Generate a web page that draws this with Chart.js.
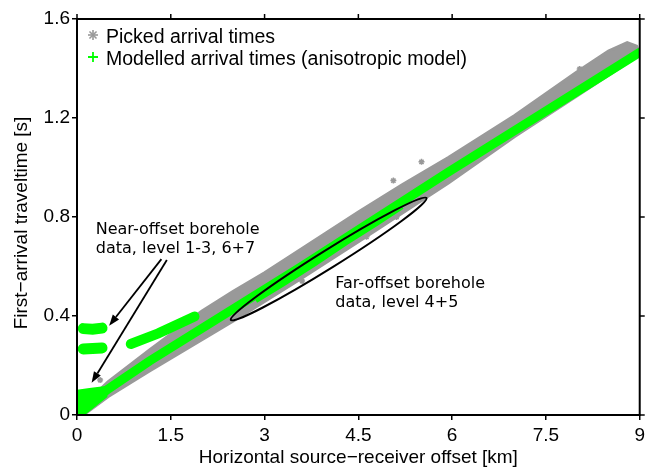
<!DOCTYPE html>
<html><head><meta charset="utf-8">
<script src="https://cdn.jsdelivr.net/npm/chart.js@4/dist/chart.umd.min.js"></script>
<style>html,body{margin:0;padding:0;background:#fff}</style>
</head><body>
<canvas id="c" width="649" height="468"></canvas>
<script>
// ---- data ----
const xTickLabels = ['0','1.5','3','4.5','6','7.5','9'];
const yTickLabels = ['0','0.4','0.8','1.2','1.6'];
const seriesNames = ['Picked arrival times','Modelled arrival times (anisotropic model)'];
const xTitle = 'Horizontal source\u2212receiver offset [km]';
const yTitle = 'First\u2212arrival traveltime [s]';

// picked arrival times: envelope of the dense band (upper edge then lower edge)
const pickedUpperX = [0.02,0.5,1.16,2.0,2.5,3.0,3.55,4.5,5.2,5.94,7.0,8.0,8.5,8.8,8.95];
const pickedUpperY = [0.02,0.135,0.263,0.42,0.50,0.575,0.665,0.82,0.93,1.04,1.21,1.387,1.47,1.505,1.49];
const pickedLowerX = [9.0,8.0,7.0,5.94,4.5,3.55,2.5,1.16,0.5,0.1];
const pickedLowerY = [1.455,1.29,1.125,0.937,0.70,0.545,0.38,0.178,0.075,0.0];
// isolated picked points
const pickedOutX = [5.51,5.06,3.6,8.04,0.37,4.63,5.11];
const pickedOutY = [1.023,0.947,0.541,1.398,0.141,0.72,0.80];

// modelled arrival times: main trend
const modelMainX = [0.02,0.5,1.16,3.55,5.94,9.0];
const modelMainY = [0.01,0.105,0.218,0.594,0.982,1.465];
// modelled far-offset borehole data (level 4+5)
const modelFarX = [2.86,3.3,3.8,4.3,4.8,5.2];
const modelFarY = [0.462,0.53,0.61,0.695,0.775,0.842];
// modelled near-offset borehole clusters
const nearTopX = [0.1,0.25,0.4];   const nearTopY = [0.349,0.347,0.351];
const nearMidX = [0.1,0.25,0.4];   const nearMidY = [0.267,0.269,0.271];
const nearSlantX = [0.86,1.3,1.88]; const nearSlantY = [0.287,0.33,0.398];
const nearWedgeX = [0.0,0.0,0.2,0.47,0.47,0.1];
const nearWedgeY = [0.0,0.098,0.105,0.114,0.075,0.0];

// annotations
const ellipseTipX = [2.46,5.59]; const ellipseTipY = [0.384,0.877];
const arrowFromX = [1.35,1.437]; const arrowFromY = [0.63,0.626];
const arrowToX = [0.514,0.234];  const arrowToY = [0.361,0.130];
const nearText = ['Near-offset borehole','data, level 1-3, 6+7'];
const nearTextX = 0.30; const nearTextY = [0.731,0.655];
const farText = ['Far-offset borehole','data, level 4+5'];
const farTextX = 4.13; const farTextY = [0.515,0.435];

// ---- build ----
const pts = (xs, ys) => xs.map((x, i) => ({x: x, y: ys[i]}));
const GRAY = '#999999', GREEN = '#00ff00';

const datasets = [
  {label: seriesNames[0], data: pts(pickedUpperX.concat(pickedLowerX), pickedUpperY.concat(pickedLowerY)),
   borderColor: GRAY, backgroundColor: GRAY, borderWidth: 3, fill: 'shape', pointRadius: 0, order: 10},
  {label: 'picked-out', data: pts(pickedOutX, pickedOutY), showLine: false, pointStyle: 'star',
   pointRadius: 3, borderColor: GRAY, pointBorderWidth: 1.5, order: 9},
  {label: 'far', data: pts(modelFarX, modelFarY), borderColor: GREEN, borderWidth: 5, pointRadius: 0, order: 3},
  {label: seriesNames[1], data: pts(modelMainX, modelMainY), borderColor: GREEN, borderWidth: 9, pointRadius: 0, order: 2, borderCapStyle: 'round'},
  {label: 'top', data: pts(nearTopX, nearTopY), borderColor: GREEN, borderWidth: 11, pointRadius: 0, borderCapStyle: 'round', order: 1},
  {label: 'mid', data: pts(nearMidX, nearMidY), borderColor: GREEN, borderWidth: 11, pointRadius: 0, borderCapStyle: 'round', order: 1},
  {label: 'slant', data: pts(nearSlantX, nearSlantY), borderColor: GREEN, borderWidth: 10, pointRadius: 0, borderCapStyle: 'round', order: 1},
  {label: 'wedge', data: pts(nearWedgeX, nearWedgeY), borderColor: GREEN, backgroundColor: GREEN, borderWidth: 2, fill: 'shape', pointRadius: 0, order: 1}
];

const deco = {
  id: 'deco',
  afterDatasetsDraw(chart) {
    const ctx = chart.ctx, xs = chart.scales.x, ys = chart.scales.y;
    const px = v => xs.getPixelForValue(v), py = v => ys.getPixelForValue(v);
    ctx.save();
    // ellipse
    const x1 = px(ellipseTipX[0]), y1 = py(ellipseTipY[0]), x2 = px(ellipseTipX[1]), y2 = py(ellipseTipY[1]);
    ctx.beginPath();
    ctx.ellipse((x1+x2)/2, (y1+y2)/2, Math.hypot(x2-x1, y2-y1)/2, 9, Math.atan2(y2-y1, x2-x1), 0, Math.PI*2);
    ctx.strokeStyle = '#000'; ctx.lineWidth = 2; ctx.stroke();
    // arrows
    for (let i = 0; i < arrowFromX.length; i++) {
      const ax = px(arrowFromX[i]), ay = py(arrowFromY[i]), bx = px(arrowToX[i]), by = py(arrowToY[i]);
      const ang = Math.atan2(by-ay, bx-ax), L = 11, W = 4;
      const hx = bx - L*Math.cos(ang), hy = by - L*Math.sin(ang);
      ctx.beginPath(); ctx.moveTo(ax, ay); ctx.lineTo(hx, hy); ctx.lineWidth = 1.8; ctx.stroke();
      ctx.beginPath(); ctx.moveTo(bx, by);
      ctx.lineTo(hx + W*Math.sin(ang), hy - W*Math.cos(ang));
      ctx.lineTo(hx - W*Math.sin(ang), hy + W*Math.cos(ang));
      ctx.closePath(); ctx.fillStyle = '#000'; ctx.fill();
    }
    // texts
    ctx.font = '16px "DejaVu Sans"'; ctx.fillStyle = '#000'; ctx.textAlign = 'left'; ctx.textBaseline = 'alphabetic';
    nearText.forEach((t, i) => ctx.fillText(t, px(nearTextX), py(nearTextY[i])));
    farText.forEach((t, i) => ctx.fillText(t, px(farTextX), py(farTextY[i])));
    ctx.restore();
  },
  afterDraw(chart) {
    const ctx = chart.ctx, a = chart.chartArea, xs = chart.scales.x, ys = chart.scales.y;
    ctx.save();
    ctx.strokeStyle = '#000'; ctx.lineWidth = 2;
    ctx.strokeRect(a.left, a.top, a.right - a.left, a.bottom - a.top);
    ctx.lineWidth = 1.5;
    xs.ticks.forEach(t => { const x = xs.getPixelForValue(t.value);
      ctx.beginPath(); ctx.moveTo(x, a.top); ctx.lineTo(x, a.top - 5); ctx.stroke(); });
    ys.ticks.forEach(t => { const y = ys.getPixelForValue(t.value);
      ctx.beginPath(); ctx.moveTo(a.right, y); ctx.lineTo(a.right + 5, y); ctx.stroke(); });
    // y axis title
    ctx.fillStyle = '#000'; ctx.font = '19px "Liberation Sans"';
    ctx.save(); ctx.translate(27, (a.top + a.bottom) / 2 + 6); ctx.rotate(-Math.PI / 2);
    ctx.textAlign = 'center'; ctx.textBaseline = 'alphabetic'; ctx.fillText(yTitle, 0, 0); ctx.restore();
    // legend
    const lx = a.left + 16, ly = [a.top + 16, a.top + 38];
    ctx.strokeStyle = GRAY; ctx.lineWidth = 1.6;
    for (let k = 0; k < 4; k++) { const an = k*Math.PI/4;
      ctx.beginPath(); ctx.moveTo(lx - 5*Math.cos(an), ly[0] - 5*Math.sin(an)); ctx.lineTo(lx + 5*Math.cos(an), ly[0] + 5*Math.sin(an)); ctx.stroke(); }
    ctx.strokeStyle = GREEN; ctx.lineWidth = 1.8;
    ctx.beginPath(); ctx.moveTo(lx - 5, ly[1]); ctx.lineTo(lx + 5, ly[1]); ctx.moveTo(lx, ly[1] - 5); ctx.lineTo(lx, ly[1] + 5); ctx.stroke();
    ctx.textAlign = 'left'; ctx.font = '19.5px "Liberation Sans"'; ctx.textBaseline = 'alphabetic';
    ctx.fillText(seriesNames[0], a.left + 29, a.top + 23.5);
    ctx.fillText(seriesNames[1], a.left + 29, a.top + 45.5);
    ctx.restore();
  }
};

new Chart(document.getElementById('c'), {
  type: 'line',
  data: {datasets: datasets},
  options: {
    responsive: false, animation: false, devicePixelRatio: 1,
    layout: {padding: {left: 0, right: 7, top: 19, bottom: 0}},
    plugins: {legend: {display: false}, tooltip: {enabled: false}},
    elements: {line: {tension: 0}},
    scales: {
      x: {type: 'linear', min: 0, max: 9,
          afterFit: s => { s.height = 53; },
          afterBuildTicks: s => { s.ticks = xTickLabels.map(v => ({value: parseFloat(v)})); },
          ticks: {callback: (v, i) => xTickLabels[i], color: '#000', padding: 4, maxRotation: 0,
                  font: {family: '"Liberation Sans"', size: 19}},
          grid: {drawOnChartArea: false, drawTicks: true, tickLength: 5, color: '#000', lineWidth: 1.5},
          border: {display: true, color: '#000', width: 2},
          title: {display: true, text: xTitle, color: '#000', padding: {top: 0, bottom: -1.5},
                  font: {family: '"Liberation Sans"', size: 19}}},
      y: {type: 'linear', min: 0, max: 1.6,
          afterFit: s => { s.width = 77; },
          afterBuildTicks: s => { s.ticks = yTickLabels.map(v => ({value: parseFloat(v)})); },
          ticks: {callback: (v, i) => yTickLabels[i], color: '#000', padding: 2,
                  font: {family: '"Liberation Sans"', size: 19}},
          grid: {drawOnChartArea: false, drawTicks: true, tickLength: 5, color: '#000', lineWidth: 1.5},
          border: {display: true, color: '#000', width: 2},
          title: {display: false}}
    }
  },
  plugins: [deco]
});
</script>
</body></html>
